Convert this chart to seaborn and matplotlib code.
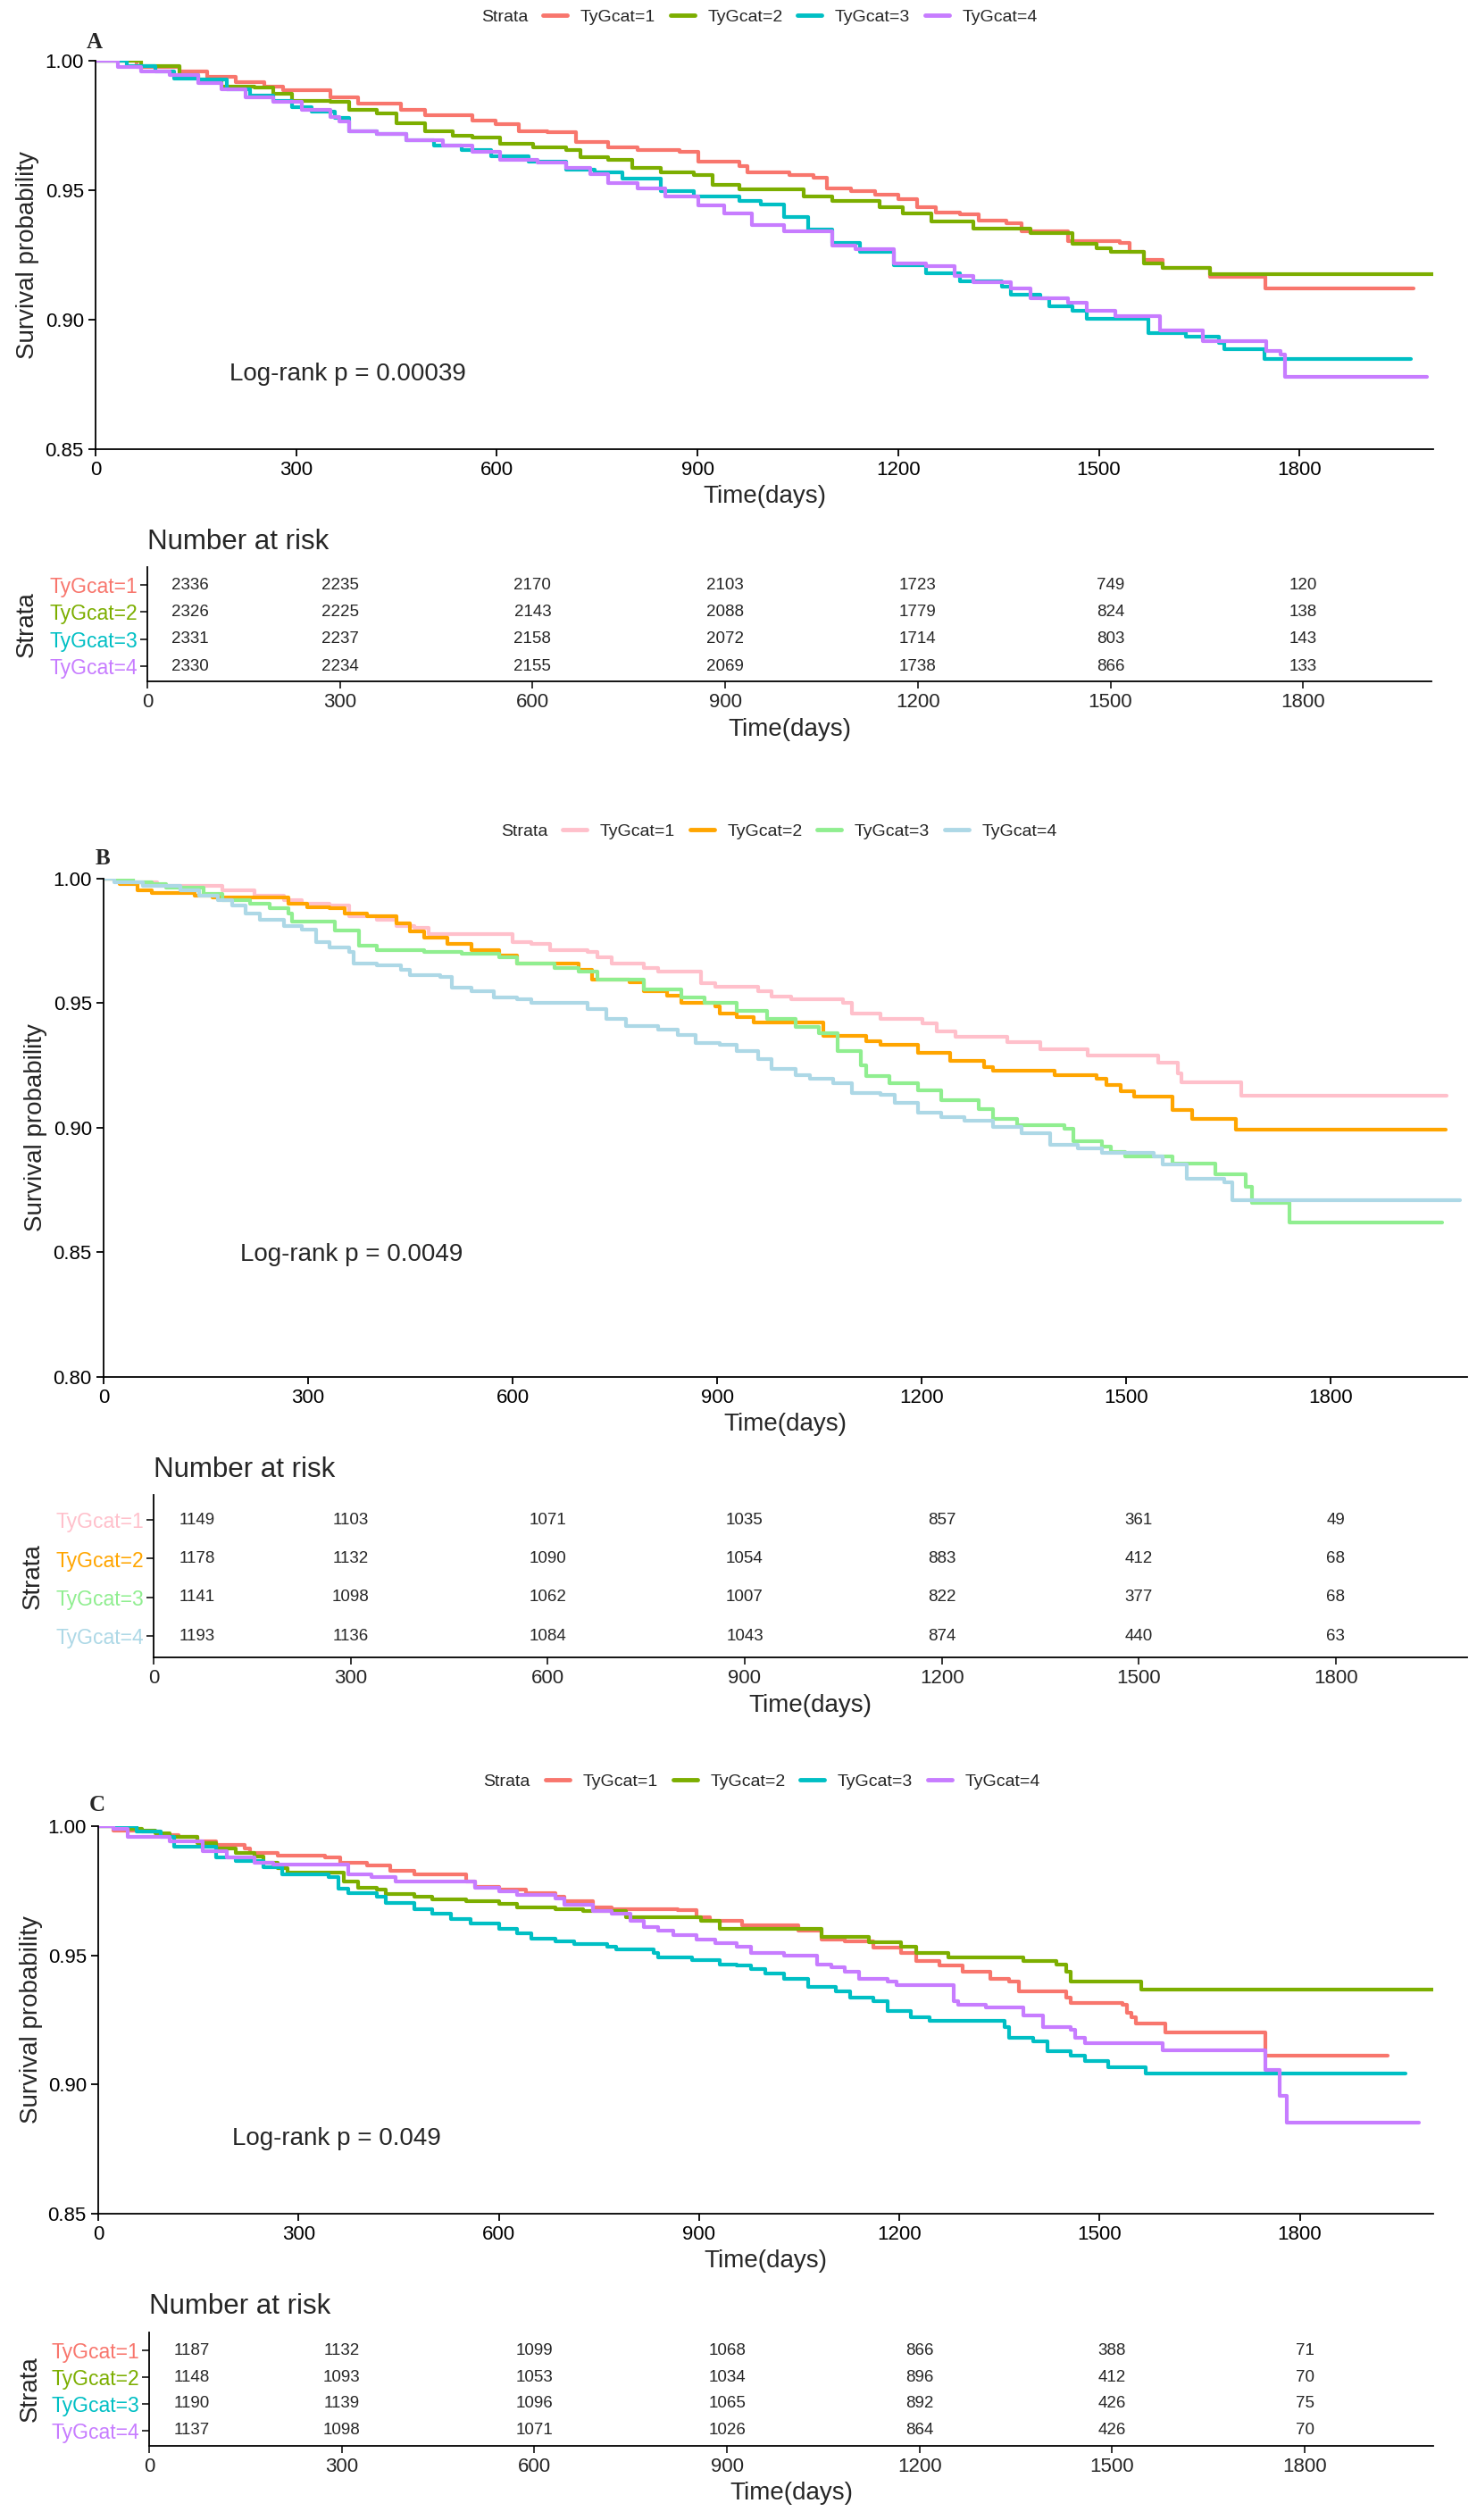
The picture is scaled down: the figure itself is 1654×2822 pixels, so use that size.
import matplotlib
matplotlib.use("Agg")
import matplotlib.pyplot as plt
import seaborn as sns
import pandas as pd
from matplotlib.lines import Line2D

# ---------------- data ----------------
strata = ["TyGcat=1", "TyGcat=2", "TyGcat=3", "TyGcat=4"]
risk_times = [0, 300, 600, 900, 1200, 1500, 1800]

# Panel A: (days, survival) knots of the KM steps
a_tyg1 = [(0, 1.0), (61, 0.9975), (125, 0.9957), (167, 0.9938), (210, 0.9916), (252, 0.9899), (280, 0.9887),
          (351, 0.9858), (393, 0.9834), (457, 0.9809), (492, 0.9791), (563, 0.9768), (598, 0.9754), (633, 0.9729),
          (676, 0.9723), (718, 0.9686), (767, 0.9667), (810, 0.9655), (873, 0.9649), (901, 0.9612), (963, 0.9594),
          (974, 0.957), (1038, 0.9557), (1073, 0.9547), (1094, 0.9507), (1129, 0.9495), (1165, 0.9483), (1200, 0.9464),
          (1228, 0.9433), (1256, 0.9415), (1292, 0.9406), (1320, 0.9384), (1362, 0.9372), (1384, 0.9341),
          (1454, 0.9304), (1532, 0.9298), (1546, 0.9261), (1567, 0.923), (1595, 0.92), (1666, 0.9165),
          (1749, 0.912), (1971, 0.912)]
a_tyg2 = [(0, 1.0), (68, 0.998), (125, 0.9945), (153, 0.9926), (188, 0.9901), (238, 0.9895), (266, 0.9871),
          (294, 0.9846), (351, 0.984), (379, 0.9809), (421, 0.9797), (450, 0.976), (492, 0.9729), (534, 0.9711),
          (563, 0.9704), (605, 0.968), (654, 0.9665), (704, 0.9655), (725, 0.9628), (767, 0.9618), (802, 0.9587),
          (845, 0.9569), (894, 0.9559), (922, 0.952), (963, 0.9505), (1059, 0.9477), (1101, 0.946), (1172, 0.9433),
          (1207, 0.9409), (1249, 0.9378), (1313, 0.9353), (1398, 0.9335), (1461, 0.9292), (1497, 0.9276),
          (1518, 0.9261), (1567, 0.9218), (1595, 0.92), (1666, 0.9177), (2000, 0.9177)]
a_tyg3 = [(0, 1.0), (47, 0.998), (90, 0.9957), (118, 0.9932), (153, 0.9926), (196, 0.9889), (231, 0.9865),
          (266, 0.9846), (294, 0.9821), (323, 0.9803), (358, 0.9778), (379, 0.9729), (421, 0.9717), (464, 0.9692),
          (506, 0.9674), (548, 0.9655), (591, 0.9631), (647, 0.9612), (704, 0.9581), (746, 0.9569), (788, 0.9544),
          (845, 0.9495), (894, 0.9477), (963, 0.9458), (995, 0.9446), (1030, 0.9397), (1066, 0.9347), (1101, 0.9298),
          (1143, 0.9261), (1193, 0.9212), (1242, 0.9181), (1292, 0.915), (1355, 0.9126), (1369, 0.9095),
          (1412, 0.9083), (1426, 0.9052), (1461, 0.9034), (1482, 0.9002), (1574, 0.8947), (1630, 0.8935),
          (1680, 0.891), (1687, 0.8885), (1747, 0.8849), (1966, 0.8849)]
a_tyg4 = [(0, 1.0), (33, 0.9975), (68, 0.9957), (111, 0.9945), (153, 0.9914), (188, 0.9889), (224, 0.9858),
          (266, 0.984), (309, 0.9809), (351, 0.9784), (365, 0.9766), (379, 0.9729), (421, 0.9717), (464, 0.9692),
          (520, 0.9674), (563, 0.9649), (605, 0.9618), (661, 0.9606), (704, 0.9587), (739, 0.9563), (767, 0.9526),
          (810, 0.9507), (852, 0.9477), (901, 0.944), (940, 0.941), (981, 0.9366), (1030, 0.9341), (1101, 0.9286),
          (1136, 0.9273), (1193, 0.9218), (1242, 0.9206), (1284, 0.9169), (1313, 0.9144), (1369, 0.912),
          (1398, 0.9083), (1454, 0.9064), (1482, 0.9034), (1525, 0.9015), (1592, 0.8959), (1656, 0.8916),
          (1751, 0.8879), (1772, 0.8867), (1779, 0.8781), (1991, 0.8781)]
a_risk = [[2336, 2235, 2170, 2103, 1723, 749, 120],
          [2326, 2225, 2143, 2088, 1779, 824, 138],
          [2331, 2237, 2158, 2072, 1714, 803, 143],
          [2330, 2234, 2155, 2069, 1738, 866, 133]]
a_pval = "Log-rank p = 0.00039"

# Panel B
b_tyg1 = [(0, 1.0), (30, 0.9987), (78, 0.9971), (174, 0.9955), (222, 0.9931), (264, 0.9915), (291, 0.9899),
          (332, 0.9891), (360, 0.9851), (401, 0.9835), (429, 0.9811), (456, 0.9803), (477, 0.9779), (600, 0.9747),
          (628, 0.9739), (655, 0.9715), (710, 0.9707), (724, 0.9683), (745, 0.9659), (793, 0.9643), (814, 0.9627),
          (876, 0.958), (897, 0.9567), (960, 0.9547), (980, 0.9527), (1008, 0.9516), (1084, 0.95), (1098, 0.946),
          (1139, 0.9436), (1201, 0.942), (1222, 0.9388), (1250, 0.9364), (1326, 0.9343), (1374, 0.9316),
          (1443, 0.9289), (1547, 0.926), (1575, 0.922), (1581, 0.9183), (1668, 0.9128), (1970, 0.9128)]
b_tyg2 = [(0, 1.0), (23, 0.9979), (50, 0.9955), (71, 0.9944), (133, 0.9931), (160, 0.9923), (271, 0.9899),
          (298, 0.9886), (332, 0.988), (353, 0.9859), (387, 0.9848), (429, 0.9819), (449, 0.9787), (470, 0.9763),
          (504, 0.9739), (539, 0.9715), (580, 0.9691), (607, 0.9659), (697, 0.9635), (717, 0.9596), (772, 0.9583),
          (793, 0.9548), (827, 0.9532), (848, 0.9503), (897, 0.9487), (904, 0.946), (929, 0.9444), (953, 0.9423),
          (1056, 0.9368), (1118, 0.9348), (1139, 0.9332), (1194, 0.93), (1242, 0.9268), (1291, 0.9244),
          (1305, 0.9228), (1395, 0.9212), (1457, 0.9196), (1471, 0.9172), (1492, 0.9148), (1512, 0.9124),
          (1568, 0.9071), (1596, 0.9036), (1661, 0.8993), (1968, 0.8993)]
b_tyg3 = [(0, 1.0), (43, 0.9987), (71, 0.9979), (92, 0.9963), (147, 0.9939), (174, 0.9915), (215, 0.9899),
          (243, 0.988), (271, 0.9859), (277, 0.9827), (339, 0.9791), (374, 0.9731), (401, 0.9715), (470, 0.9707),
          (525, 0.9699), (580, 0.9683), (607, 0.9659), (662, 0.9643), (697, 0.9628), (724, 0.9596), (793, 0.9556),
          (848, 0.9524), (882, 0.95), (929, 0.9468), (973, 0.9436), (1015, 0.9404), (1049, 0.938), (1076, 0.9308),
          (1111, 0.9252), (1118, 0.9209), (1153, 0.918), (1194, 0.9151), (1229, 0.9111), (1284, 0.9076),
          (1305, 0.9036), (1340, 0.9012), (1409, 0.8996), (1423, 0.8948), (1464, 0.8924), (1478, 0.8905),
          (1498, 0.8884), (1568, 0.8857), (1630, 0.8812), (1675, 0.8764), (1685, 0.87), (1740, 0.862),
          (1963, 0.862)]
b_tyg4 = [(0, 1.0), (16, 0.9987), (57, 0.9971), (112, 0.9955), (140, 0.9931), (167, 0.9915), (188, 0.9891),
          (208, 0.9859), (229, 0.9835), (264, 0.9811), (291, 0.9795), (312, 0.9747), (332, 0.9723), (360, 0.9707),
          (367, 0.9659), (401, 0.9651), (436, 0.9635), (449, 0.9612), (494, 0.9604), (511, 0.9564), (539, 0.9548),
          (573, 0.9524), (607, 0.9516), (628, 0.95), (710, 0.9476), (738, 0.9436), (766, 0.9407), (814, 0.9396),
          (842, 0.9372), (869, 0.934), (904, 0.9332), (929, 0.9308), (960, 0.9276), (980, 0.9236), (1015, 0.9212),
          (1036, 0.9196), (1070, 0.918), (1098, 0.914), (1139, 0.9132), (1160, 0.91), (1194, 0.906), (1229, 0.9044),
          (1263, 0.9028), (1305, 0.9004), (1346, 0.898), (1388, 0.8932), (1429, 0.8916), (1464, 0.89),
          (1540, 0.8884), (1554, 0.8852), (1589, 0.8796), (1644, 0.878), (1655, 0.8708), (1989, 0.8708)]
b_risk = [[1149, 1103, 1071, 1035, 857, 361, 49],
          [1178, 1132, 1090, 1054, 883, 412, 68],
          [1141, 1098, 1062, 1007, 822, 377, 68],
          [1193, 1136, 1084, 1043, 874, 440, 63]]
b_pval = "Log-rank p = 0.0049"

# Panel C
c_tyg1 = [(0, 1.0), (23, 0.9984), (65, 0.9978), (93, 0.9965), (121, 0.9959), (149, 0.994), (177, 0.9928),
          (220, 0.9915), (227, 0.9897), (269, 0.9887), (340, 0.9878), (362, 0.9859), (403, 0.9847), (438, 0.9828),
          (473, 0.9815), (551, 0.9784), (565, 0.9766), (600, 0.9753), (641, 0.9741), (685, 0.9728), (698, 0.9709),
          (741, 0.9685), (769, 0.9678), (868, 0.9675), (896, 0.9647), (917, 0.9632), (964, 0.9616), (1049, 0.9597),
          (1084, 0.956), (1119, 0.9554), (1161, 0.9529), (1203, 0.951), (1225, 0.9479), (1260, 0.946),
          (1295, 0.9435), (1337, 0.941), (1365, 0.9398), (1379, 0.936), (1450, 0.9335), (1457, 0.9317),
          (1534, 0.931), (1541, 0.9279), (1548, 0.9261), (1555, 0.9236), (1598, 0.9201), (1749, 0.9113),
          (1932, 0.9113)]
c_tyg2 = [(0, 1.0), (37, 0.999), (65, 0.9984), (86, 0.9971), (107, 0.9959), (149, 0.9934), (177, 0.9915),
          (206, 0.9897), (234, 0.9884), (248, 0.9859), (269, 0.9837), (283, 0.9819), (368, 0.9784), (389, 0.9762),
          (417, 0.9753), (431, 0.9737), (473, 0.9728), (501, 0.9716), (551, 0.9709), (600, 0.9699), (628, 0.9687),
          (685, 0.9678), (727, 0.967), (790, 0.9647), (903, 0.9635), (931, 0.9603), (1084, 0.9572), (1154, 0.955),
          (1203, 0.9535), (1225, 0.951), (1274, 0.9491), (1386, 0.9479), (1436, 0.9466), (1450, 0.9435),
          (1457, 0.9398), (1562, 0.9367), (2000, 0.9367)]
c_tyg3 = [(0, 1.0), (58, 0.9978), (93, 0.9959), (114, 0.9921), (177, 0.9878), (206, 0.9865), (248, 0.984),
          (276, 0.9812), (345, 0.9803), (360, 0.9759), (375, 0.9741), (417, 0.9728), (431, 0.9703), (473, 0.9678),
          (501, 0.966), (529, 0.9641), (558, 0.9622), (600, 0.9603), (628, 0.9585), (649, 0.9566), (685, 0.9554),
          (713, 0.9545), (762, 0.9535), (776, 0.9522), (832, 0.951), (839, 0.9491), (889, 0.9483), (931, 0.9466),
          (957, 0.946), (978, 0.9448), (999, 0.9429), (1027, 0.941), (1063, 0.9379), (1105, 0.936), (1126, 0.9335),
          (1161, 0.9323), (1182, 0.9286), (1217, 0.9261), (1246, 0.9248), (1358, 0.9223), (1365, 0.918),
          (1400, 0.9167), (1422, 0.913), (1457, 0.9111), (1478, 0.9092), (1513, 0.9067), (1569, 0.9042),
          (1959, 0.9042)]
c_tyg4 = [(0, 1.0), (23, 0.999), (44, 0.9959), (107, 0.994), (156, 0.9903), (192, 0.9878), (234, 0.9859),
          (262, 0.9853), (375, 0.9815), (410, 0.9803), (445, 0.9787), (565, 0.9762), (600, 0.9747), (628, 0.9734),
          (685, 0.9719), (698, 0.9697), (741, 0.9672), (769, 0.966), (797, 0.9635), (818, 0.961), (839, 0.9597),
          (861, 0.9579), (896, 0.956), (924, 0.9547), (957, 0.9535), (978, 0.951), (1027, 0.95), (1077, 0.9466),
          (1098, 0.9454), (1119, 0.9435), (1140, 0.941), (1182, 0.9398), (1196, 0.9385), (1281, 0.9323),
          (1288, 0.931), (1330, 0.9298), (1386, 0.9267), (1415, 0.9223), (1457, 0.9211), (1464, 0.918),
          (1478, 0.9161), (1594, 0.9132), (1749, 0.9055), (1770, 0.8955), (1781, 0.8852), (1979, 0.8852)]
c_risk = [[1187, 1132, 1099, 1068, 866, 388, 71],
          [1148, 1093, 1053, 1034, 896, 412, 70],
          [1190, 1139, 1096, 1065, 892, 426, 75],
          [1137, 1098, 1071, 1026, 864, 426, 70]]
c_pval = "Log-rank p = 0.049"

gg_colors = ["#F8766D", "#7CAE00", "#00BFC4", "#C77CFF"]
light_colors = ["pink", "orange", "lightgreen", "lightblue"]

# ---------------- style ----------------
sns.set_style("ticks")
plt.rcParams["font.family"] = ["Liberation Sans", "DejaVu Sans"]
plt.rcParams["axes.linewidth"] = 1.3

W, H = 1654, 2822
fig = plt.figure(figsize=(W / 100, H / 100), dpi=100)


def box(l, t, r, b):
    return [l / W, 1 - b / H, (r - l) / W, (b - t) / H]


panels = [
    dict(letter="A", curves=[a_tyg1, a_tyg2, a_tyg3, a_tyg4], risk=a_risk, pval=a_pval, colors=gg_colors,
         main=(107, 68, 1605, 503), ylim=(0.85, 1.0), yticks=[0.85, 0.90, 0.95, 1.00], pval_y=0.879,
         letter_xy=(97, 48), legend_x=608, legend_y=19, xlab_y=556, ylab_x=31,
         table=(165, 635, 1603, 763), tylim=(-0.56, 3.66), title_y=607, txlab_y=817, tylab_x=30),
    dict(letter="B", curves=[b_tyg1, b_tyg2, b_tyg3, b_tyg4], risk=b_risk, pval=b_pval, colors=light_colors,
         main=(116, 984, 1643, 1542), ylim=(0.80, 1.0), yticks=[0.80, 0.85, 0.90, 0.95, 1.00], pval_y=0.849,
         letter_xy=(107, 962), legend_x=630, legend_y=931, xlab_y=1595, ylab_x=40,
         table=(172, 1674, 1643, 1856), tylim=(-0.55, 3.65), title_y=1646, txlab_y=1910, tylab_x=37),
    dict(letter="C", curves=[c_tyg1, c_tyg2, c_tyg3, c_tyg4], risk=c_risk, pval=c_pval, colors=gg_colors,
         main=(110, 2045, 1605, 2479), ylim=(0.85, 1.0), yticks=[0.85, 0.90, 0.95, 1.00], pval_y=0.879,
         letter_xy=(100, 2021), legend_x=611, legend_y=1995, xlab_y=2532, ylab_x=35,
         table=(167, 2612, 1605, 2739), tylim=(-0.57, 3.67), title_y=2583, txlab_y=2792, tylab_x=34),
]

for p in panels:
    # ---- survival curves ----
    rows = []
    for name, pts in zip(strata, p["curves"]):
        for t, s in pts:
            rows.append((name, t, s))
    df = pd.DataFrame(rows, columns=["strata", "time", "surv"])

    ax = fig.add_axes(box(*p["main"]))
    sns.lineplot(data=df, x="time", y="surv", hue="strata", hue_order=strata,
                 palette=p["colors"], estimator=None, sort=False, drawstyle="steps-post",
                 linewidth=3.0, legend=False, ax=ax)
    ax.set_xlim(0, 2000)
    ax.set_ylim(*p["ylim"])
    ax.set_xticks(risk_times)
    ax.set_yticks(p["yticks"])
    ax.set_yticklabels([f"{v:.2f}" for v in p["yticks"]])
    ax.tick_params(labelsize=16, length=6, width=1.3, colors="black")
    sns.despine(ax=ax)
    for sp in ax.spines.values():
        sp.set_color("black")

    l, t, r, b = p["main"]
    ax.set_xlabel("Time(days)", fontsize=20)
    ax.xaxis.set_label_coords(0.5, (b - p["xlab_y"]) / (b - t))
    ax.xaxis.label.set_va("center")
    ax.set_ylabel("Survival probability", fontsize=20)
    ax.yaxis.set_label_coords((p["ylab_x"] - l) / (r - l), 0.5)
    ax.yaxis.label.set_va("center")

    ax.text(200, p["pval_y"], p["pval"], fontsize=20, ha="left", va="center")

    lx, ly = p["letter_xy"]
    fig.text(lx / W, 1 - ly / H, p["letter"], fontsize=18, fontweight="bold",
             family=["Liberation Serif", "DejaVu Serif"], ha="left", va="center")

    # ---- legend ----
    handles = [Line2D([], [], color=c, lw=3.5) for c in p["colors"]]
    fig.legend(handles, strata, loc="center left",
               bbox_to_anchor=(p["legend_x"] / W, 1 - p["legend_y"] / H),
               ncol=4, frameon=False, fontsize=14, handlelength=1.4,
               handletextpad=0.75, columnspacing=0.85, borderpad=0, borderaxespad=0)
    fig.text((p["legend_x"] - 17) / W, 1 - p["legend_y"] / H, "Strata", fontsize=14,
             ha="right", va="center")

    # ---- risk table ----
    tax = fig.add_axes(box(*p["table"]))
    tl, tt, tr, tb = p["table"]
    ypos = [3, 2, 1, 0]
    for i, counts in enumerate(p["risk"]):
        for t, n in zip(risk_times, counts):
            tax.text(t if t > 0 else 66, ypos[i], str(n), fontsize=13.5, ha="center", va="center")
    tax.set_xlim(0, 2000)
    tax.set_ylim(*p["tylim"])
    tax.set_xticks(risk_times)
    tax.set_yticks(ypos)
    tax.set_yticklabels(strata, fontsize=16.5)
    for lab, c in zip(tax.get_yticklabels(), p["colors"]):
        lab.set_color(c)
    tax.tick_params(axis="x", labelsize=16, length=6, width=1.3)
    tax.tick_params(axis="y", length=6, width=1.3, pad=2)
    sns.despine(ax=tax)
    for sp in tax.spines.values():
        sp.set_color("black")
    tax.set_xlabel("Time(days)", fontsize=20)
    tax.xaxis.set_label_coords(0.5, (tb - p["txlab_y"]) / (tb - tt))
    tax.xaxis.label.set_va("center")
    tax.set_ylabel("Strata", fontsize=20)
    tax.yaxis.set_label_coords((p["tylab_x"] - tl) / (tr - tl), 0.5)
    tax.yaxis.label.set_va("center")
    fig.text(tl / W, 1 - p["title_y"] / H, "Number at risk", fontsize=22.5,
             ha="left", va="center")

fig.savefig("out.png", dpi=100)
